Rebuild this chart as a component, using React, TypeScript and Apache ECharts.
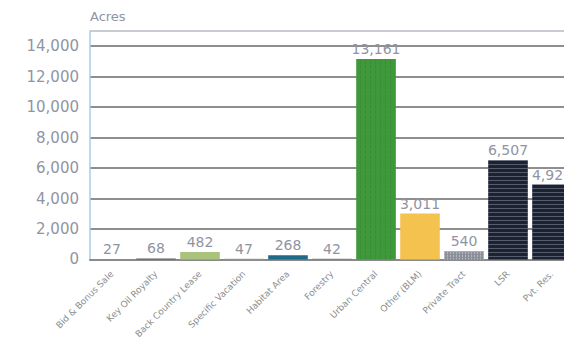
import React, { useEffect, useRef } from "react";
import * as echarts from "echarts";

const categories = [
  "Bid & Bonus Sale",
  "Key Oil Royalty",
  "Back Country Lease",
  "Specific Vacation",
  "Habitat Area",
  "Forestry",
  "Urban Central",
  "Other (BLM)",
  "Private Tract",
  "LSR",
  "Pvt. Res.",
];
const values = [27, 68, 482, 47, 268, 42, 13161, 3011, 540, 6507, 4920];
const yTicks = [0, 2000, 4000, 6000, 8000, 10000, 12000, 14000];
const yMax = 15000;
const barColors = [
  "#8c8c8c",
  "#5f5f5f",
  "#a9c27c",
  "#9a9a9a",
  "#1f6a88",
  "#7c7c7c",
  "#3f983a",
  "#f4c24e",
  "#8b909a",
  "#1c2230",
  "#1c2230",
];

const navyDecal = {
  symbol: "rect",
  symbolSize: 1,
  dashArrayX: [1, 0],
  dashArrayY: [1, 3],
  color: "rgba(190,200,225,0.35)",
};
const grayDecal = {
  symbol: "rect",
  symbolSize: 1,
  dashArrayX: [1, 2],
  dashArrayY: [2, 1],
  color: "rgba(230,232,238,0.45)",
};
const greenDecal = {
  symbol: "rect",
  symbolSize: 1,
  dashArrayX: [1, 4],
  dashArrayY: [4, 0.001],
  color: "rgba(0,60,0,0.1)",
};

export default function App() {
  const ref = useRef<HTMLDivElement>(null);
  useEffect(() => {
    if (!ref.current) return;
    const chart = echarts.init(ref.current, undefined, { renderer: "svg" });
    const data = values.map((v, i) => {
      const item: any = { value: v, itemStyle: { color: barColors[i] } };
      if (i === 9 || i === 10) item.itemStyle.decal = navyDecal;
      if (i === 8) item.itemStyle.decal = grayDecal;
      if (i === 6) item.itemStyle.decal = greenDecal;
      return item;
    });
    const splitColors = yTicks.map(() => "#8e8e8e").concat(["#c9ccd3"]);
    chart.setOption({
      animation: false,
      backgroundColor: "#ffffff",
      textStyle: { fontFamily: "DejaVu Sans" },
      grid: { left: 90, top: 31, width: 484, height: 232, containLabel: false },
      graphic: [
        {
          type: "text",
          left: 90,
          top: 10,
          style: {
            text: "Acres",
            fill: "#8f94a2",
            fontSize: 13,
            fontFamily: "DejaVu Sans",
          },
        },
      ],
      xAxis: {
        type: "category",
        data: categories,
        axisTick: { show: false },
        axisLine: { lineStyle: { color: "#8a8a8a", width: 2 } },
        axisLabel: {
          interval: 0,
          rotate: 45,
          fontSize: 9,
          margin: 13,
          color: "#8e8e8e",
        },
      },
      yAxis: {
        type: "value",
        min: 0,
        max: yMax,
        interval: 2000,
        axisLine: { show: true, lineStyle: { color: "#a9cbe6", width: 1.5 } },
        axisTick: { show: false },
        axisLabel: {
          showMaxLabel: false,
          fontSize: 15,
          margin: 11,
          color: "#9095a3",
          formatter: (v: number) => v.toLocaleString("en-US"),
        },
        splitLine: { lineStyle: { color: splitColors, width: 2 } },
      },
      series: [
        {
          type: "bar",
          data,
          barCategoryGap: "10%",
          label: {
            show: true,
            position: "top",
            distance: 3,
            fontSize: 14,
            color: "#8f94a2",
            formatter: (p: any) => Number(p.value).toLocaleString("en-US"),
          },
        },
      ],
    });
    return () => chart.dispose();
  }, []);
  return (
    <div
      style={{
        position: "fixed",
        left: 0,
        top: 0,
        width: 564,
        height: 341,
        overflow: "hidden",
        background: "#fff",
      }}
    >
      <div ref={ref} style={{ width: 600, height: 341 }} />
    </div>
  );
}
